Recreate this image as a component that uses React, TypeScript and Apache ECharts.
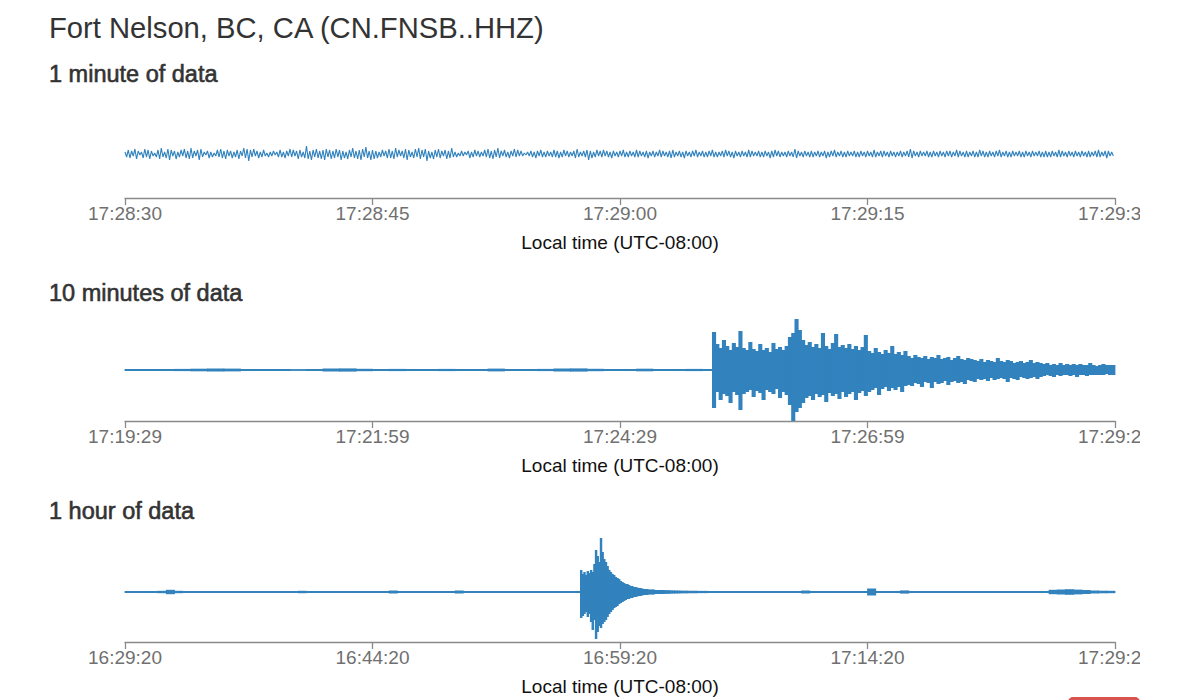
import React, { useEffect, useRef } from "react";
import * as echarts from "echarts";

const stationTitle = "Fort Nelson, BC, CA (CN.FNSB..HHZ)";
const panelTitles = ["1 minute of data", "10 minutes of data", "1 hour of data"];
const axisName = "Local time (UTC-08:00)";

const minuteTicks = ["17:28:30", "17:28:45", "17:29:00", "17:29:15", "17:29:30"];
const tenMinuteTicks = ["17:19:29", "17:21:59", "17:24:29", "17:26:59", "17:29:29"];
const hourTicks = ["16:29:20", "16:44:20", "16:59:20", "17:14:20", "17:29:20"];

// 1 minute trace: one sample every 0.1 s
const minuteStep = 0.1;
const minuteTrace = [
  2, -3, 4, -4, 3, -2, 5, -5, 3, -1, 2, -4, 5, -3, 4, -5, 3, -2, 1, -3,
  4, -5, 6, -3, 2, -4, 5, -6, 4, -2, 3, -5, 2, -3, 4, -2, 5, -4, 3, -5,
  6, -4, 3, -2, 4, -6, 5, -3, 2, -1, 3, -4, 2, -3, 1, -2, 4, -3, 5, -4,
  3, -5, 4, -2, 3, -4, 2, -3, 4, -5, 3, -2, 6, -4, 5, -7, 4, -3, 5, -2,
  3, -4, 2, -3, 4, -2, 1, -3, 2, -2, 3, -1, 2, -3, 4, -3, 2, -4, 3, -2,
  5, -3, 4, -2, 3, -5, 4, -3, 2, -4, 8, -5, 3, -6, 4, -3, 5, -4, 3, -5,
  4, -6, 5, -3, 4, -5, 3, -4, 5, -3, 4, -6, 3, -4, 2, -5, 4, -3, 6, -4,
  3, -5, 4, -6, 5, -3, 7, -4, 3, -6, 4, -5, 3, -4, 2, -3, 4, -2, 3, -4,
  5, -4, 3, -5, 6, -3, 4, -2, 3, -4, 5, -6, 4, -3, 2, -4, 5, -3, 6, -5,
  4, -3, 5, -7, 3, -4, 2, -5, 4, -3, 5, -4, 3, -2, 4, -5, 3, -4, 6, -3,
  2, -3, 1, -2, 3, -2, 2, -1, 3, -4, 2, -3, 4, -2, 3, -3, 2, -2, 4, -3,
  5, -4, 3, -5, 4, -3, 6, -4, 3, -2, 4, -3, 2, -4, 3, -2, 5, -3, 4, -2,
  3, -2, 1, -1, 2, -2, 3, -3, 2, -4, 3, -2, 4, -3, 2, -3, 3, -2, 2, -3,
  4, -3, 3, -4, 2, -3, 4, -2, 3, -3, 2, -2, 3, -4, 5, -3, 2, -2, 3, -3,
  4, -6, 3, -4, 2, -3, 4, -2, 3, -3, 4, -2, 3, -3, 2, -4, 3, -2, 2, -3,
  3, -2, 4, -3, 2, -3, 3, -2, 2, -3, 4, -3, 3, -2, 2, -3, 3, -4, 2, -2,
  3, -3, 2, -2, 4, -3, 3, -2, 2, -3, 3, -4, 4, -3, 2, -2, 3, -3, 2, -4,
  3, -2, 2, -3, 3, -2, 4, -3, 2, -2, 3, -3, 2, -3, 3, -2, 4, -3, 2, -3,
  2, -2, 3, -3, 4, -2, 3, -3, 2, -4, 3, -2, 2, -3, 3, -2, 2, -3, 4, -3,
  3, -2, 2, -2, 3, -3, 2, -3, 3, -2, 2, -4, 3, -3, 4, -2, 3, -3, 2, -2,
  2, -3, 3, -2, 2, -3, 5, -4, 3, -2, 2, -3, 3, -2, 2, -3, 3, -3, 2, -2,
  3, -3, 2, -2, 3, -4, 2, -3, 3, -2, 4, -3, 2, -2, 3, -3, 2, -3, 3, -2,
  2, -2, 3, -3, 2, -3, 3, -2, 2, -3, 3, -2, 2, -3, 4, -3, 2, -2, 3, -3,
  3, -2, 2, -3, 3, -2, 2, -3, 2, -2, 3, -3, 2, -2, 3, -3, 5, -4, 3, -2,
  2, -3, 3, -2, 2, -2, 3, -3, 2, -3, 3, -2, 2, -3, 3, -2, 2, -3, 3, -2,
  3, -3, 2, -2, 4, -3, 3, -2, 2, -3, 3, -3, 2, -2, 3, -3, 2, -3, 4, -2,
  3, -3, 2, -3, 3, -2, 2, -3, 3, -2, 4, -3, 2, -2, 3, -3, 2, -3, 3, -2,
  2, -2, 3, -3, 2, -3, 3, -2, 2, -3, 3, -2, 2, -2, 3, -3, 2, -3, 3, -3,
  2, -3, 3, -2, 2, -3, 4, -3, 3, -2, 2, -3, 3, -2, 2, -3, 3, -2, 2, -3,
  3, -2, 2, -3, 3, -3, 2, -2, 3, -3, 4, -3, 2, -2, 3, -4, 3, -2, 2, -2,
];

// 10 minutes: quiet envelope (10 s bins) then event envelope (2 s bins from 356 s)
const tenQuietBin = 10;
const tenQuietAmp = [
  1, 1, 1, 1.1, 1.3, 1.5, 1.4, 1.1, 1, 1, 0.9, 1, 1.5, 1.6, 1.2, 1, 1.1, 1,
  1, 1.1, 1, 1, 1.4, 1, 1, 1.1, 1.5, 1.6, 1.2, 1, 1, 1.3, 1, 1, 1.1, 1,
];
const tenEventStart = 356;
const tenEventBin = 2;
const tenEventHi = [
  38, 26, 22, 30, 24, 20, 27, 23, 39, 22, 20, 28, 21, 19, 26, 20, 22, 18, 27, 21,
  23, 20, 24, 33, 37, 51, 40, 30, 25, 28, 23, 26, 22, 37, 24, 21, 27, 36, 23, 25,
  22, 26, 21, 24, 20, 23, 35, 19, 17, 22, 18, 16, 20, 17, 24, 16, 18, 15, 19, 14,
  12, 15, 13, 12, 14, 11, 13, 12, 15, 11, 12, 13, 10, 12, 14, 11, 10, 12, 11, 10,
  9, 11, 8, 10, 9, 8, 12, 9, 8, 10, 9, 7, 8, 9, 7, 8, 10, 7, 8, 7,
  6, 7, 5, 6, 5, 7, 5, 6, 5, 6, 5, 6, 5, 5, 7, 5, 4, 5, 6, 5, 5, 5,
];
const tenEventLo = [
  -38, -22, -30, -24, -26, -33, -22, -25, -40, -24, -22, -20, -27, -21, -23, -30, -20, -22, -24, -19,
  -28, -22, -25, -35, -51, -42, -38, -33, -28, -26, -30, -24, -27, -25, -32, -23, -26, -24, -29, -22,
  -27, -24, -22, -30, -23, -21, -26, -22, -20, -18, -25, -19, -17, -21, -18, -20, -17, -22, -16, -15,
  -16, -13, -14, -17, -12, -13, -18, -12, -14, -13, -11, -15, -12, -11, -13, -12, -14, -10, -11, -12,
  -9, -10, -9, -11, -8, -10, -9, -8, -9, -12, -8, -9, -10, -7, -8, -9, -8, -7, -9, -7,
  -6, -5, -6, -7, -5, -6, -5, -5, -6, -5, -7, -5, -5, -6, -5, -5, -5, -5, -5, -4, -5, -5,
];

// 1 hour: quiet envelope (30 s bins) and event envelope (6 s bins from 1656 s)
const hourQuietBin = 30;
const hourQuietAmp = [
  1, 1, 1, 1, 1.2, 2.2, 1.2, 1, 1, 1, 1, 1, 1, 1, 1, 1, 1, 1, 1, 1,
  1, 1.2, 1, 1, 1, 1, 1, 1, 1, 1, 1, 1, 1.5, 1, 1, 1, 1, 1, 1, 1,
  1.5, 1, 1, 1, 1, 1, 1, 1, 1, 1, 1, 1, 1, 1, 1, 1, 1, 1, 1, 1,
  1, 1, 1, 1, 1, 1, 1, 1, 1, 1, 1, 1, 1, 1, 1, 1, 1, 1, 1, 1,
  1, 1, 1.5, 1, 1, 1, 1, 1, 1, 1, 3.5, 1, 1, 1, 1.6, 1, 1, 1, 1, 1,
  1, 1, 1, 1, 1, 1, 1, 1, 1, 1, 1, 1, 2.2, 2.5, 2.8, 2.4, 2, 1.5, 1.3, 1.2,
];
const hourEventStart = 1656;
const hourEventBin = 6;
const hourEventHi = [
  22, 18, 20, 17, 21, 19, 22, 20, 28, 42, 36, 30, 54, 40, 33, 30, 26, 22, 20, 18,
  17, 15, 14, 13, 11, 10, 9, 8, 8, 7, 6, 6, 5, 5, 4.5, 4, 4, 3.5, 3, 3,
  3, 2.5, 2.5, 2.5, 2.5, 2, 2, 2, 2, 2, 2, 1.8, 1.8, 1.8, 1.6, 1.6, 1.5, 1.5, 1.5, 1.4,
  1.4, 1.3, 1.3, 1.3, 1.3, 1.2, 1.2, 1.2, 1.2, 1.2, 1.2, 1.1, 1.1, 1.1, 1.1, 1.1, 1.1, 1, 1, 1,
];
const hourEventLo = [
  -26, -24, -22, -20, -25, -22, -30, -38, -28, -47, -40, -34, -36, -32, -30, -28, -25, -22, -20, -18,
  -16, -15, -14, -12, -11, -10, -9, -8, -7, -7, -6, -6, -5, -5, -4.5, -4, -4, -3.5, -3, -3,
  -3, -2.5, -2.5, -2.5, -2.5, -2, -2, -2, -2, -2, -2, -1.8, -1.8, -1.8, -1.6, -1.6, -1.5, -1.5, -1.5, -1.4,
  -1.4, -1.3, -1.3, -1.3, -1.3, -1.2, -1.2, -1.2, -1.2, -1.2, -1.2, -1.1, -1.1, -1.1, -1.1, -1.1, -1.1, -1, -1, -1,
];

const TRACE = "#3182bd";
const FONT = "'Liberation Sans', Arial, Helvetica, sans-serif";

function quietBins(amp: number[], bin: number) {
  return amp.map((a, i) => [i * bin, a, -a, bin]);
}
function eventBins(start: number, bin: number, hi: number[], lo: number[]) {
  return hi.map((h, i) => [start + i * bin, h, lo[i], bin]);
}

const renderBin = (params: any, api: any) => {
  const t = api.value(0);
  const hi = api.value(1);
  const lo = api.value(2);
  const w = api.value(3);
  const p1 = api.coord([t, hi]);
  const p2 = api.coord([t + w, lo]);
  return {
    type: "rect",
    shape: {
      x: p1[0] - 0.4,
      y: p1[1],
      width: Math.max(p2[0] - p1[0], 1) + 0.8,
      height: Math.max(p2[1] - p1[1], 1),
    },
    style: { fill: TRACE },
  };
};

function makeXAxis(gridIndex: number, max: number, interval: number, labels: string[]) {
  return {
    type: "value",
    gridIndex,
    min: 0,
    max,
    interval,
    position: "bottom",
    name: axisName,
    nameLocation: "middle",
    nameGap: 35,
    nameTextStyle: { color: "#111", fontSize: 19, fontFamily: FONT },
    axisLine: { show: true, onZero: false, lineStyle: { color: "#8a8a8a", width: 1.3 } },
    axisTick: { show: true, length: 7, lineStyle: { color: "#8a8a8a", width: 1.3 } },
    axisLabel: {
      color: "#707070",
      fontSize: 19,
      fontFamily: FONT,
      margin: 6,
      showMinLabel: true,
      showMaxLabel: true,
      hideOverlap: false,
      formatter: (v: number) => labels[Math.round(v / interval)] ?? "",
    },
    splitLine: { show: false },
  };
}

function makeYAxis(gridIndex: number, half: number) {
  return { type: "value", gridIndex, min: -half, max: half, show: false };
}

function makeGrid(top: number, height: number) {
  return { left: 125, width: 990, top, height, containLabel: false, outerBoundsMode: "none" };
}

export default function App() {
  const ref = useRef<HTMLDivElement>(null);
  useEffect(() => {
    if (!ref.current) return;
    const chart = echarts.init(ref.current, undefined, { renderer: "svg" });
    const titleStyle = (y: number, text: string, size: number, stroke: number) => ({
      type: "text",
      x: 49,
      y,
      style: {
        text,
        fill: "#333",
        font: `${size}px ${FONT}`,
        verticalAlign: "middle",
        align: "left",
        stroke: stroke > 0 ? "#333" : undefined,
        lineWidth: stroke,
      },
    });
    chart.setOption({
      animation: false,
      backgroundColor: "#fff",
      grid: [makeGrid(110, 88), makeGrid(319, 102), makeGrid(542, 100)],
      xAxis: [
        makeXAxis(0, 60, 15, minuteTicks),
        makeXAxis(1, 600, 150, tenMinuteTicks),
        makeXAxis(2, 3600, 900, hourTicks),
      ],
      yAxis: [makeYAxis(0, 44), makeYAxis(1, 51), makeYAxis(2, 50)],
      graphic: [
        titleStyle(28, stationTitle, 29.2, 0),
        titleStyle(74, panelTitles[0], 23.5, 0.6),
        titleStyle(293, panelTitles[1], 23.5, 0.6),
        titleStyle(511, panelTitles[2], 23.5, 0.6),
        {
          type: "rect",
          shape: { x: 1068, y: 697, width: 72, height: 14, r: 5 },
          style: { fill: "#d9534f" },
        },
      ],
      series: [
        {
          type: "line",
          xAxisIndex: 0,
          yAxisIndex: 0,
          symbol: "none",
          lineStyle: { color: TRACE, width: 1.1 },
          data: minuteTrace.map((v, i) => [i * minuteStep, v]),
        },
        {
          type: "custom",
          xAxisIndex: 1,
          yAxisIndex: 1,
          renderItem: renderBin,
          encode: { x: 0, y: [1, 2] },
          data: quietBins(tenQuietAmp, tenQuietBin),
        },
        {
          type: "custom",
          xAxisIndex: 1,
          yAxisIndex: 1,
          renderItem: renderBin,
          encode: { x: 0, y: [1, 2] },
          data: eventBins(tenEventStart, tenEventBin, tenEventHi, tenEventLo),
        },
        {
          type: "custom",
          xAxisIndex: 2,
          yAxisIndex: 2,
          renderItem: renderBin,
          encode: { x: 0, y: [1, 2] },
          data: quietBins(hourQuietAmp, hourQuietBin),
        },
        {
          type: "custom",
          xAxisIndex: 2,
          yAxisIndex: 2,
          renderItem: renderBin,
          encode: { x: 0, y: [1, 2] },
          data: eventBins(hourEventStart, hourEventBin, hourEventHi, hourEventLo),
        },
      ],
    });
    return () => chart.dispose();
  }, []);
  return (
    <div
      ref={ref}
      style={{ position: "absolute", left: 0, top: 0, width: 1140, height: 700, overflow: "hidden" }}
    />
  );
}
